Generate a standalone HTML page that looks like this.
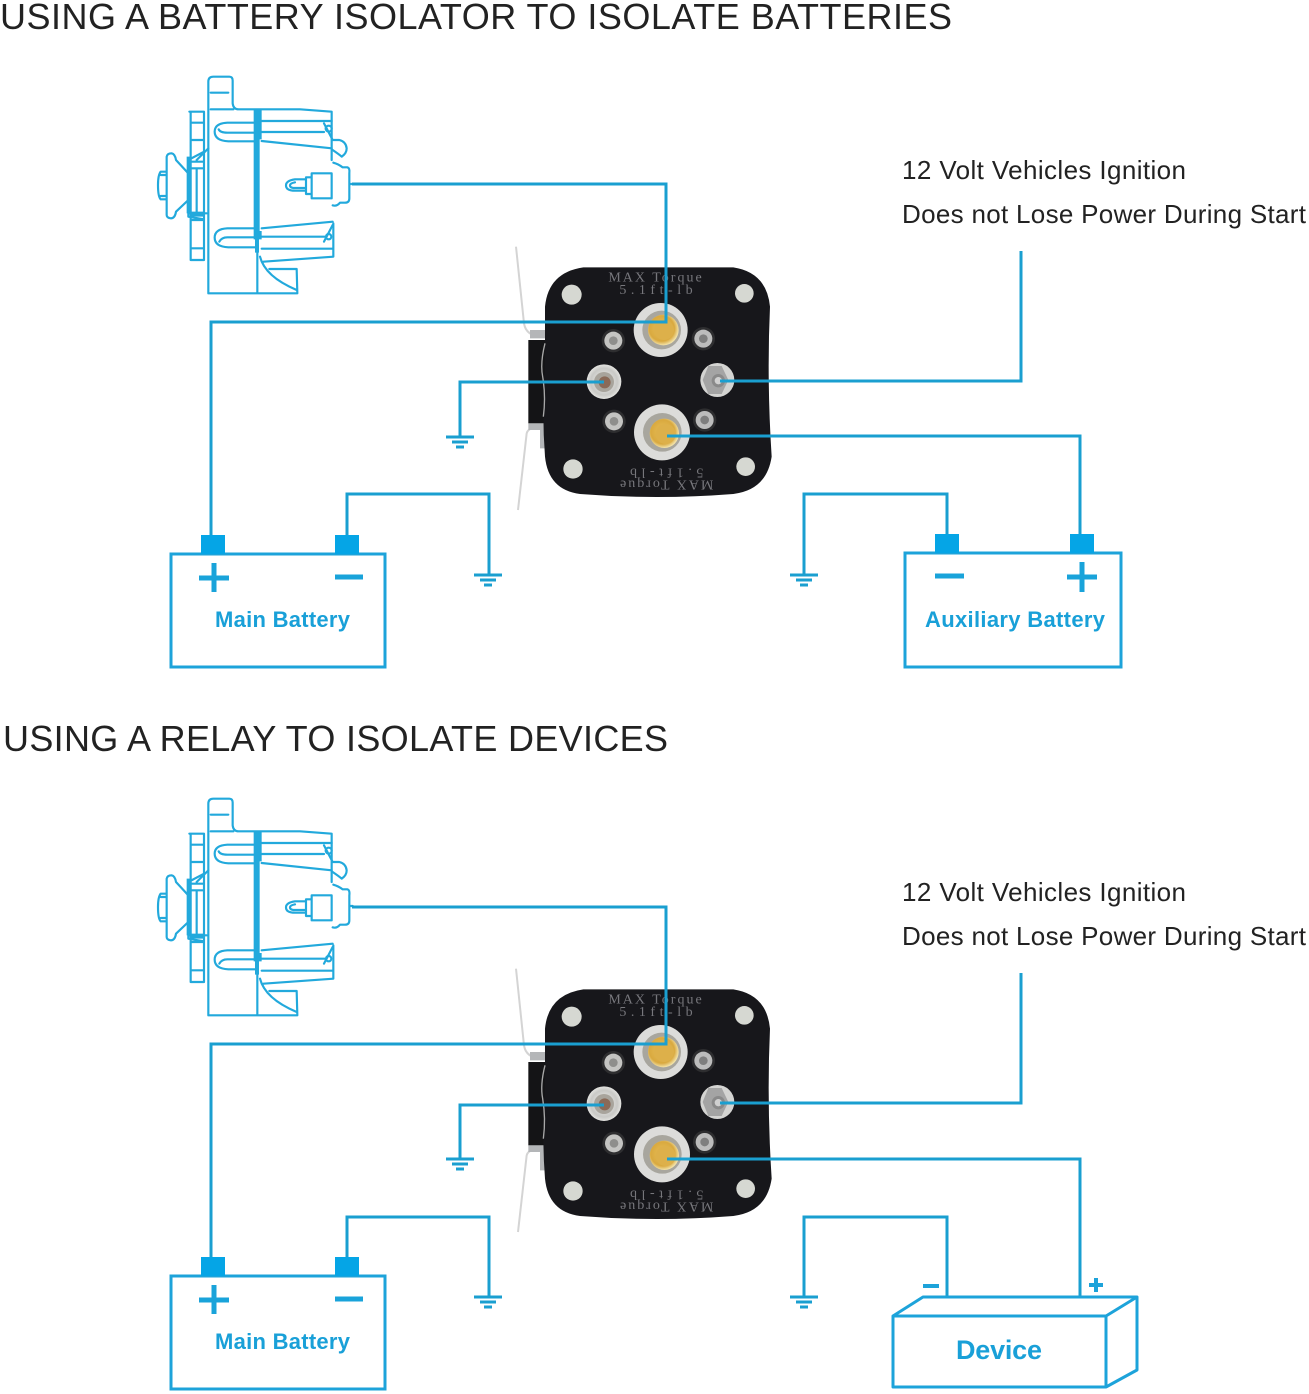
<!DOCTYPE html>
<html>
<head>
<meta charset="utf-8">
<style>
html,body{margin:0;padding:0;background:#fff}
svg{display:block}
.h{font-family:"Liberation Sans",sans-serif;font-size:36px;fill:#222}
.l{font-family:"Liberation Sans",sans-serif;font-size:26px;fill:#222}
.b{font-family:"Liberation Sans",sans-serif;font-weight:bold;font-size:22px;fill:#19a0d8}
.m{font-family:"Liberation Serif",serif;font-size:42px;fill:#77777c}
.w{fill:none;stroke:#1a9fd0;stroke-width:3}
.a{fill:none;stroke:#22a9dc;stroke-width:6.5;stroke-linejoin:round;stroke-linecap:round}
</style>
</head>
<body>
<svg width="1309" height="1394" viewBox="0 0 1309 1394" xmlns="http://www.w3.org/2000/svg">
<defs>
<radialGradient id="nut" cx="50%" cy="50%" r="55%"><stop offset="0" stop-color="#f4f4f2"/><stop offset=".7" stop-color="#c9c9c6"/><stop offset="1" stop-color="#efefec"/></radialGradient>
<radialGradient id="gold" cx="45%" cy="45%" r="55%"><stop offset="0" stop-color="#e8c05a"/><stop offset=".75" stop-color="#d9a93f"/><stop offset="1" stop-color="#f2e2a8"/></radialGradient>

<g id="alt" transform="translate(140 60) scale(.33333)">
  <path class="a" d="M205 700V65Q205 50 220 50H268Q278 50 278 62V130Q280 148 296 148H480L575 155V300M580 490V590L370 605M388 627H470L472 700H205M352 520V700M360 590Q375 650 470 690M212 98H265M212 148H280"/>
  <path d="M341 148h24v90h-6v275h6v25h-8v40h-12v-40h-4z" fill="#22a9dc"/>
  <path class="a" d="M345 188H262Q224 190 224 215Q224 242 265 244H345M345 218H262Q240 218 236 208M365 183H575M365 216H552M365 243L575 265M552 190L578 240"/>
  <circle cx="566" cy="206" r="9" class="a"/>
  <path class="a" d="M345 505H262Q224 507 224 533Q224 560 265 562H345M345 532H262Q245 532 238 545M365 505L578 485M365 530H555M365 566H578M552 545L578 495"/>
  <circle cx="566" cy="530" r="8" class="a"/>
  <path class="a" d="M148 155H192V600H152V155M152 188H190M152 240H192M152 480H192M152 565H192M192 275L145 300V470L192 478M150 305H192V325H150M150 460H200M170 325V455M205 265L170 300"/>
  <path d="M140 290h12v170h-12zM150 455h45v15h-45z" fill="#22a9dc"/>
  <path class="a" d="M80 290Q82 280 95 280Q105 282 108 300L145 340V420L108 455Q105 475 92 475Q80 473 80 465ZM80 335H62Q54 345 54 375Q54 410 62 418H80M62 345H80M62 408H80"/>
  <path class="a" d="M578 270Q600 285 605 290Q620 280 620 265Q618 245 598 240L580 240M580 308Q595 312 608 322H622Q630 324 628 340V415Q628 428 615 428H600Q590 440 578 436M515 340H575V415H515ZM515 352H498M515 402H498M498 352V402M498 358H465Q438 362 438 376Q438 392 465 392H498M465 367Q450 370 450 376Q450 384 465 384H498M628 372H638"/>
</g>

<g id="plate" transform="translate(500 230) scale(.33333)">
  <path d="M48 50L72 280Q78 320 130 320" fill="none" stroke="#d4d4d4" stroke-width="6"/>
  <path d="M54 840L80 610Q85 590 130 590" fill="none" stroke="#d4d4d4" stroke-width="6"/>
  <path d="M85 330H140V580H85z" fill="#141416"/>
  <path d="M90 300H135V325H90zM85 580H135V600H85zM120 590h16v65h-16z" fill="#b4b6b8"/>
  <path d="M250 112H700Q800 127 810 230Q800 450 815 680Q800 780 700 792Q470 810 240 792Q145 780 135 680Q125 550 135 420V230Q145 127 250 112Z" fill="#17171b"/>
  <path d="M135 340Q120 400 128 440Q138 500 130 560" fill="none" stroke="#a8a8a8" stroke-width="4"/>
  <circle cx="215" cy="194" r="30" fill="#d6d8d2"/><circle cx="733" cy="190" r="28" fill="#d6d8d2"/><circle cx="219" cy="717" r="29" fill="#d6d8d2"/><circle cx="737" cy="710" r="28" fill="#d6d8d2"/>
  <circle cx="340" cy="332" r="35" fill="#2e2e30"/><circle cx="340" cy="332" r="27" fill="#c4c4c2"/><circle cx="340" cy="332" r="13" fill="#8e8e8c"/>
  <circle cx="610" cy="326" r="35" fill="#2e2e30"/><circle cx="610" cy="326" r="27" fill="#bcbcbc"/><circle cx="610" cy="326" r="13" fill="#7e7e7e"/>
  <circle cx="342" cy="574" r="35" fill="#2e2e30"/><circle cx="342" cy="574" r="27" fill="#c4c4c2"/><circle cx="342" cy="574" r="13" fill="#8e8e8c"/>
  <circle cx="614" cy="570" r="35" fill="#2e2e30"/><circle cx="614" cy="570" r="27" fill="#bcbcbc"/><circle cx="614" cy="570" r="13" fill="#7e7e7e"/>
  <circle cx="482" cy="300" r="81" fill="#dcdcda"/>
  <circle cx="485" cy="300" r="58" fill="#a8a69e"/><circle cx="490" cy="300" r="46" fill="url(#gold)"/><circle cx="492" cy="300" r="30" fill="#ddb04a"/>
  <circle cx="486" cy="607" r="84" fill="#dcdcda"/>
  <circle cx="487" cy="607" r="58" fill="#a8a69e"/><circle cx="493" cy="610" r="44" fill="url(#gold)"/><circle cx="497" cy="612" r="30" fill="#ddb04a"/>
  <circle cx="312" cy="455" r="52" fill="url(#nut)"/><circle cx="312" cy="456" r="30" fill="#a8a49c"/><circle cx="314" cy="457" r="18" fill="#8a6a58"/>
  <circle cx="652" cy="450" r="51" fill="#d4d4d2"/><path d="M625 408H665L685 450L665 492H625L608 450Z" fill="#a4a4a4"/><circle cx="655" cy="452" r="20" fill="#8a8a8a"/><circle cx="655" cy="452" r="11" fill="#d0d0d0"/>
</g>

<g id="gnd">
  <path d="M-14 0H14M-8 5H8M-4 10H4" stroke="#1a9fd0" stroke-width="3" fill="none"/>
</g>
<g id="batt">
  <rect x="171" y="554" width="214" height="113" fill="none" stroke="#1da3da" stroke-width="3"/>
  <rect x="201" y="535" width="24" height="19" fill="#05a5e6"/>
  <rect x="335" y="535" width="24" height="19" fill="#05a5e6"/>
  <path d="M199 578H229M214 563V592M335 577H363" stroke="#19a3da" stroke-width="5" fill="none"/>
</g>
</defs>

<rect width="1309" height="1394" fill="#fff"/>

<!-- top diagram -->
<text class="h" x="0" y="29" textLength="952" lengthAdjust="spacing">USING A BATTERY ISOLATOR TO ISOLATE BATTERIES</text>
<use href="#alt"/>
<use href="#plate"/>
<text class="l" x="902" y="179" textLength="284">12 Volt Vehicles Ignition</text>
<text class="l" x="902" y="223" textLength="404">Does not Lose Power During Start</text>
<g transform="translate(500 230) scale(.33333)">
  <text class="m" x="465" y="155" text-anchor="middle" textLength="280">MAX Torque</text>
  <text class="m" x="468" y="192" text-anchor="middle" textLength="220">5.1ft-lb</text>
  <g transform="rotate(180 500 745)">
    <text class="m" x="500" y="738" text-anchor="middle" textLength="280">MAX Torque</text>
    <text class="m" x="500" y="775" text-anchor="middle" textLength="220">5.1ft-lb</text>
  </g>
</g>
<path class="w" d="M352 184H666V322H211V536"/>
<path class="w" d="M604 382H460V436"/>
<path class="w" d="M720 381H1021V251"/>
<path class="w" d="M667 436H1080V536"/>
<path class="w" d="M347 536V494H489V574"/>
<path class="w" d="M947 536V494H804V574"/>
<use href="#gnd" x="460" y="437"/>
<use href="#gnd" x="488" y="575"/>
<use href="#gnd" x="804" y="575"/>
<use href="#batt"/>
<text class="b" x="215" y="627" textLength="135">Main Battery</text>
<rect x="905" y="553" width="216" height="114" fill="none" stroke="#1da3da" stroke-width="3"/>
<rect x="935" y="534" width="24" height="19" fill="#05a5e6"/>
<rect x="1070" y="534" width="24" height="19" fill="#05a5e6"/>
<path d="M935 576H964M1067 577H1097M1082 562V592" stroke="#19a3da" stroke-width="5" fill="none"/>
<text class="b" x="925" y="627" textLength="180">Auxiliary Battery</text>

<!-- bottom diagram -->
<text class="h" x="3" y="751" textLength="665" lengthAdjust="spacing">USING A RELAY TO ISOLATE DEVICES</text>
<use href="#alt" y="722"/>
<use href="#plate" y="722"/>
<text class="l" x="902" y="901" textLength="284">12 Volt Vehicles Ignition</text>
<text class="l" x="902" y="945" textLength="404">Does not Lose Power During Start</text>
<g transform="translate(500 952) scale(.33333)">
  <text class="m" x="465" y="155" text-anchor="middle" textLength="280">MAX Torque</text>
  <text class="m" x="468" y="192" text-anchor="middle" textLength="220">5.1ft-lb</text>
  <g transform="rotate(180 500 745)">
    <text class="m" x="500" y="738" text-anchor="middle" textLength="280">MAX Torque</text>
    <text class="m" x="500" y="775" text-anchor="middle" textLength="220">5.1ft-lb</text>
  </g>
</g>
<path class="w" d="M352 907H666V1044H211V1258"/>
<path class="w" d="M604 1105H460V1158"/>
<path class="w" d="M720 1103H1021V973"/>
<path class="w" d="M667 1159H1080V1297"/>
<path class="w" d="M347 1258V1217H489V1296"/>
<path class="w" d="M947 1297V1217H804V1296"/>
<use href="#gnd" x="460" y="1159"/>
<use href="#gnd" x="488" y="1297"/>
<use href="#gnd" x="804" y="1297"/>
<use href="#batt" y="722"/>
<text class="b" x="215" y="1349" textLength="135">Main Battery</text>
<path d="M893 1316H1106V1387H893ZM893 1316L923 1297H1137L1106 1316M1137 1297V1370L1106 1387" fill="none" stroke="#1da3da" stroke-width="3" stroke-linejoin="round"/>
<path d="M923 1286H939M1089 1285H1103M1096 1278V1292" stroke="#1da3da" stroke-width="4" fill="none"/>
<text x="956" y="1359" textLength="86" font-family="Liberation Sans, sans-serif" font-weight="bold" font-size="27" fill="#19a0d8">Device</text>
</svg>
</body>
</html>
